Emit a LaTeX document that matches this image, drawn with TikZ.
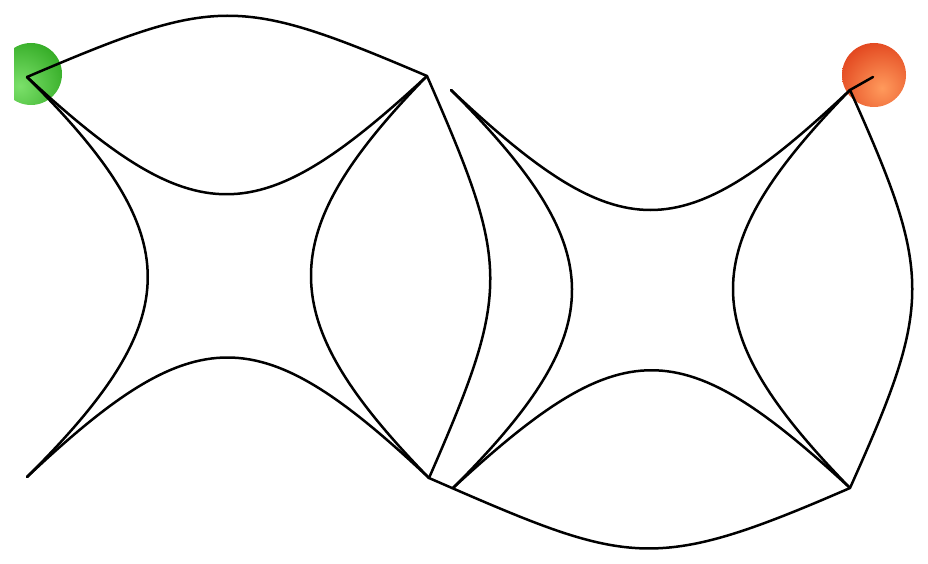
\documentclass[tikz,border=0pt]{standalone}
\begin{document}
\begin{tikzpicture}[x=1pt,y=-1pt,
  edge/.style={line width=2.5pt, black, line join=round, line cap=round}]
\definecolor{gin}{HTML}{7BE06A}
\definecolor{gout}{HTML}{2FA821}
\definecolor{rin}{HTML}{FF9A5C}
\definecolor{rout}{HTML}{E0401A}
\useasboundingbox (0,0) rectangle (928,564);
% balls
\begin{scope}
  \clip (14,0) rectangle (100,140);
  \clip (31,74) circle (31);
  \shade[inner color=gin, outer color=gout] (20,86) circle (52);
\end{scope}
\begin{scope}
  \clip (874,75) circle (32);
  \shade[inner color=rin, outer color=rout] (882,88) circle (52);
\end{scope}
% corners
\coordinate (A) at (27,77);
\coordinate (C) at (427,76);
\coordinate (E) at (429,478);
\coordinate (G) at (27,477);
\coordinate (D) at (451,90);
\coordinate (B) at (850,90);
\coordinate (H) at (850,488);
\coordinate (F) at (453,488);
\coordinate (R) at (873,77);
% left square
\draw[edge] (A) .. controls +(170,157) and +(-170,157) .. (C);
\draw[edge] (A) .. controls +(161,160) and +(161,-160) .. (G);
\draw[edge] (G) .. controls +(170,-160) and +(-170,-160) .. (E);
\draw[edge] (C) .. controls +(-156,160) and +(-156,-160) .. (E);
\draw[edge] (A) .. controls +(190,-81) and +(-190,-81) .. (C);
\draw[edge] (C) .. controls +(83,190) and +(83,-190) .. (E);
% right square
\draw[edge] (D) .. controls +(170,160) and +(-170,160) .. (B);
\draw[edge] (D) .. controls +(160,160) and +(160,-160) .. (F);
\draw[edge] (F) .. controls +(170,-157) and +(-170,-157) .. (H);
\draw[edge] (B) .. controls +(-156,160) and +(-156,-160) .. (H);
\draw[edge] (B) .. controls +(83,185) and +(83,-185) .. (H);
\draw[edge] (E) .. controls +(200,87) and +(-200,87) .. (H);
\draw[edge] (B) -- (R);
\end{tikzpicture}
\end{document}
